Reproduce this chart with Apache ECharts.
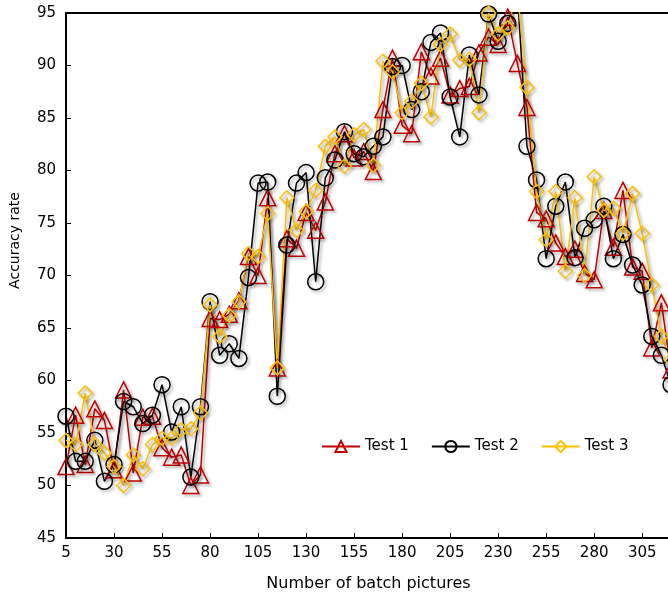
<!DOCTYPE html>
<html>
<head>
<meta charset="utf-8">
<script src="https://cdn.jsdelivr.net/npm/echarts@6/dist/echarts.min.js"></script>
<style>
  html, body { margin: 0; padding: 0; background: #fff; }
  #chart { width: 668px; height: 596px; }
</style>
</head>
<body>
<div id="chart"></div>
<script>
const batches = [5, 10, 15, 20, 25, 30, 35, 40, 45, 50, 55, 60, 65, 70, 75, 80,
  85, 90, 95, 100, 105, 110, 115, 120, 125, 130, 135, 140, 145, 150, 155, 160,
  165, 170, 175, 180, 185, 190, 195, 200, 205, 210, 215, 220, 225, 230, 235, 240,
  245, 250, 255, 260, 265, 270, 275, 280, 285, 290, 295, 300, 305, 310, 315, 320]

const test1 = [51.8, 56.7, 52.0, 57.3, 56.2, 51.5, 59.1, 51.2, 56.5, 56.6, 53.6, 52.7, 52.9, 50.0, 51.0, 65.9,
  65.8, 66.3, 67.6, 71.8, 70.0, 77.4, 61.2, 73.5, 72.6, 76.0, 74.3, 77.0, 81.6, 83.5, 81.2, 81.8,
  79.9, 85.8, 90.7, 84.3, 83.5, 91.3, 89.0, 90.7, 87.2, 87.8, 88.0, 91.2, 92.7, 92.0, 94.6, 90.2,
  86.0, 76.0, 75.4, 73.1, 71.8, 72.5, 70.2, 69.6, 76.2, 72.7, 78.1, 70.8, 70.4, 63.1, 67.4, 61.0]

const test2 = [56.6, 52.3, 52.3, 54.3, 50.4, 52.0, 58.0, 57.5, 55.9, 56.7, 59.6, 55.1, 57.5, 50.8, 57.5, 67.5,
  62.4, 63.5, 62.1, 69.8, 78.8, 78.9, 58.5, 72.9, 78.8, 79.8, 69.4, 79.3, 81.0, 83.7, 81.6, 81.3,
  82.3, 83.2, 89.9, 90.0, 85.8, 87.5, 92.2, 93.1, 87.0, 83.2, 91.0, 87.2, 94.9, 92.3, 94.0, 97.0,
  82.3, 79.1, 71.6, 76.6, 78.9, 71.7, 74.5, 75.3, 76.6, 71.6, 73.9, 71.0, 69.1, 64.2, 62.4, 59.6]

const test3 = [54.3, 53.9, 58.8, 53.9, 53.1, 51.8, 50.0, 52.9, 51.6, 53.9, 54.5, 54.5, 55.3, 55.4, 56.9, 67.2,
  64.2, 66.2, 67.5, 72.1, 71.8, 75.9, 61.2, 77.4, 74.3, 76.1, 78.1, 82.3, 83.2, 80.4, 83.4, 83.9,
  80.5, 90.4, 89.4, 85.5, 86.6, 88.3, 85.1, 92.0, 93.0, 90.5, 90.6, 85.5, 95.0, 93.0, 93.6, 97.0,
  87.9, 78.0, 73.4, 78.0, 70.4, 77.4, 70.0, 79.4, 76.2, 76.4, 74.0, 77.8, 74.0, 69.1, 64.2, 62.0]

const seriesNames = ['Test 1', 'Test 2', 'Test 3']
const seriesColors = ['#C00000', '#000000', '#FFC000']
const seriesSymbols = ['triangle', 'circle', 'diamond']
const symbolSizes = [16, 16, 14]

const font = 'DejaVu Sans, Verdana, sans-serif'

function pairs(values) {
  return batches.map((b, i) => [b, values[i]])
}

const chart = echarts.init(document.getElementById('chart'))

// hollow markers with a soft drop shadow, like the original
const series = [test1, test2, test3].map((vals, i) => ({
  name: seriesNames[i],
  type: 'line',
  data: pairs(vals),
  symbol: seriesSymbols[i],
  symbolSize: symbolSizes[i],
  showAllSymbol: true,
  clip: true,
  lineStyle: {
    color: seriesColors[i],
    width: 1.5,
    shadowColor: 'rgba(0,0,0,0.35)',
    shadowBlur: 3,
    shadowOffsetX: 2,
    shadowOffsetY: 2
  },
  itemStyle: {
    color: 'rgba(255,255,255,0)',
    borderColor: seriesColors[i],
    borderWidth: 1.5,
    shadowColor: 'rgba(0,0,0,0.35)',
    shadowBlur: 3,
    shadowOffsetX: 2,
    shadowOffsetY: 2
  },
  emphasis: { disabled: true }
}))

const option = {
  animation: false,
  backgroundColor: '#fff',
  textStyle: { fontFamily: font },
  grid: {
    left: 66,
    right: -3,
    top: 13,
    bottom: 58,
    outerBoundsMode: 'none'
  },
  legend: {
    left: 316,
    top: 434,
    itemWidth: 38,
    itemHeight: 14,
    itemGap: 22,
    data: seriesNames,
    textStyle: { fontFamily: font, fontSize: 15, color: '#000' }
  },
  xAxis: [{
    type: 'value',
    min: 5,
    max: 320,
    interval: 25,
    name: 'Number of batch pictures',
    nameLocation: 'middle',
    nameGap: 38,
    nameTextStyle: { fontFamily: font, fontSize: 16, color: '#000' },
    axisLine: { lineStyle: { color: '#000', width: 2 } },
    axisTick: { inside: true, length: 5, lineStyle: { color: '#000' } },
    axisLabel: { fontFamily: font, fontSize: 15, color: '#000', margin: 8, showMaxLabel: false },
    splitLine: { show: false }
  }, {
    type: 'value',
    position: 'top',
    min: 5,
    max: 320,
    axisLine: { show: true, lineStyle: { color: '#000', width: 2 } },
    axisTick: { show: false },
    axisLabel: { show: false },
    splitLine: { show: false }
  }],
  yAxis: {
    type: 'value',
    min: 45,
    max: 95,
    interval: 5,
    name: 'Accuracy rate',
    nameLocation: 'middle',
    nameGap: 44,
    nameTextStyle: { fontFamily: font, fontSize: 14, color: '#000', padding: [0, 0, 0, 70] },
    axisLine: { show: true, lineStyle: { color: '#000', width: 2 } },
    axisTick: { show: true, inside: true, length: 5, lineStyle: { color: '#000' } },
    axisLabel: { fontFamily: font, fontSize: 15, color: '#000', margin: 10 },
    splitLine: { show: false }
  },
  series: series
}

chart.setOption(option)
</script>
</body>
</html>
